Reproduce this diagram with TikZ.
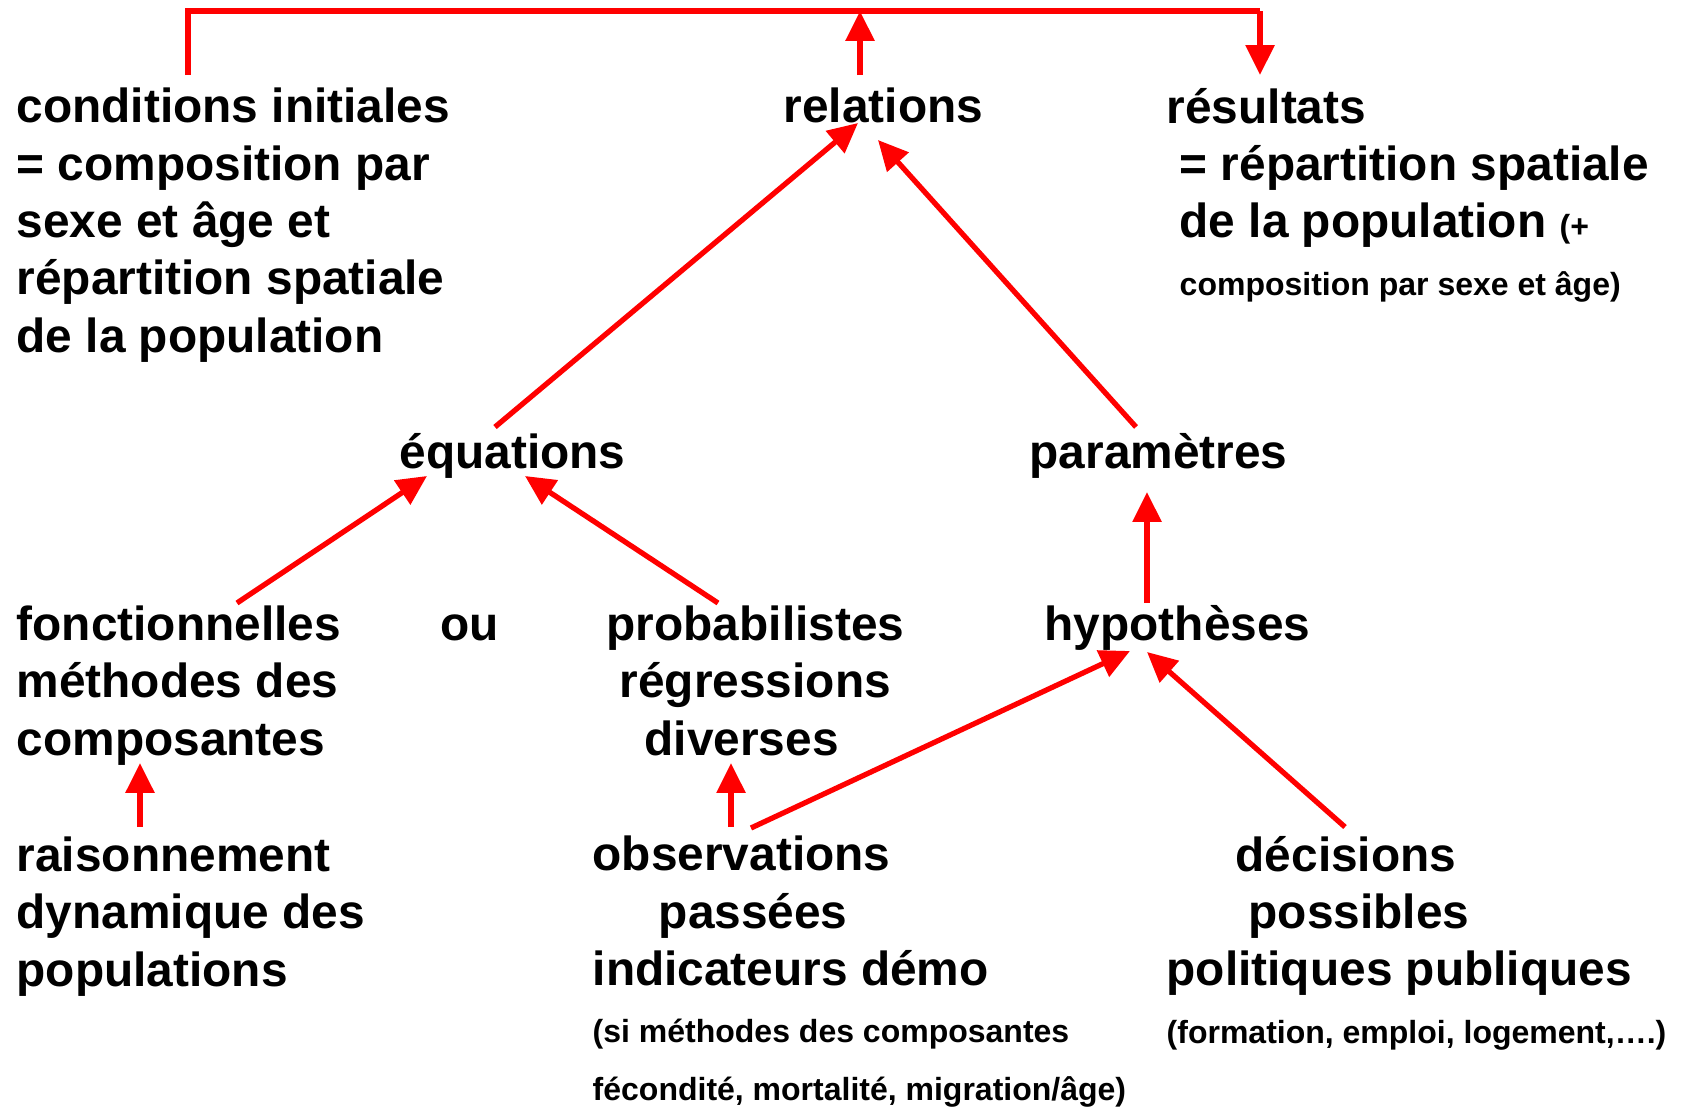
\documentclass[tikz,border=0pt]{standalone}
\usepackage{fontspec}
\setmainfont{Liberation Sans}
\usetikzlibrary{arrows.meta}
\newcommand{\petit}[1]{{\fontsize{9.1}{16.3}\selectfont #1}}

\begin{document}
\begin{tikzpicture}[x=0.01cm, y=-0.01cm,
    txt/.style={anchor=base west, inner sep=0pt, align=left,
                font=\fontsize{13.6}{16.3}\selectfont\bfseries},
    link/.style={red, line width=1.5pt, -{Triangle[length=8.5pt,width=8pt]}},
    bar/.style={red, line width=1.6pt}]
  \useasboundingbox (0,0) rectangle (1681,1109);
  % top row (base = last line)
  \node[txt] (cond) at (16,352) {conditions initiales\\= composition par\\sexe et âge et\\répartition spatiale\\de la population};
  \node[txt] (relations) at (783,123) {relations};
  \node[txt] (resultats) at (1166,295) {résultats\\\hspace*{3.7pt}= répartition spatiale\\\hspace*{3.7pt}de la population \petit{(+}\\\hspace*{3.7pt}\petit{composition par sexe et âge)}};
  % middle rows
  \node[txt] (equations) at (399,468) {équations};
  \node[txt] (parametres) at (1029,468) {paramètres};
  \node[txt] (fonct) at (16,755) {fonctionnelles\\méthodes des\\composantes};
  \node[txt] (ou) at (440,640) {ou};
  \node[txt] (proba) at (606,755) {probabilistes\\\hspace*{3.7pt}régressions\\\hspace*{10.8pt}diverses};
  \node[txt] (hypo) at (1044,640) {hypothèses};
  % bottom row
  \node[txt] (raison) at (16,986) {raisonnement\\dynamique des\\populations};
  \node[txt] (obs) at (592,1100) {observations\\\hspace*{18.8pt}passées\\indicateurs démo\\\petit{(si méthodes des composantes}\\\petit{fécondité, mortalité, migration/âge)}};
  \node[txt] (decis) at (1166,1043) {\hspace*{19.6pt}décisions\\\hspace*{23.3pt}possibles\\politiques publiques\\\petit{(formation, emploi, logement,….)}};
  % bracket on top
  \coordinate (barL) at (188,11);
  \coordinate (barR) at (1260,11);
  \draw[bar] ([shift={(172,-277)}]cond.base west) -- (barL) -- (barR);
  \draw[link] ([shift={(77,-48)}]relations.base west) -- ([shift={(77,-112)}]relations.base west);
  \draw[link] (barR) -- ([shift={(94,-220)}]resultats.base west);
  % arrows
  \draw[link] ([shift={(96,-41)}]equations.base west) -- ([shift={(75,0)}]relations.base west);
  \draw[link] ([shift={(107,-41)}]parametres.base west) -- ([shift={(95,17)}]relations.base west);
  \draw[link] ([shift={(221,-152)}]fonct.base west) -- ([shift={(28,8)}]equations.base west);
  \draw[link] ([shift={(112,-152)}]proba.base west) -- ([shift={(126,8)}]equations.base west);
  \draw[link] ([shift={(103,-37)}]hypo.base west) -- ([shift={(118,24)}]parametres.base west);
  \draw[link] ([shift={(124,-159)}]raison.base west) -- ([shift={(124,8)}]fonct.base west);
  \draw[link] ([shift={(139,-273)}]obs.base west) -- ([shift={(125,8)}]proba.base west);
  \draw[link] ([shift={(159,-272)}]obs.base west) -- ([shift={(86,11)}]hypo.base west);
  \draw[link] ([shift={(179,-216)}]decis.base west) -- ([shift={(103,12)}]hypo.base west);
\end{tikzpicture}
\end{document}
